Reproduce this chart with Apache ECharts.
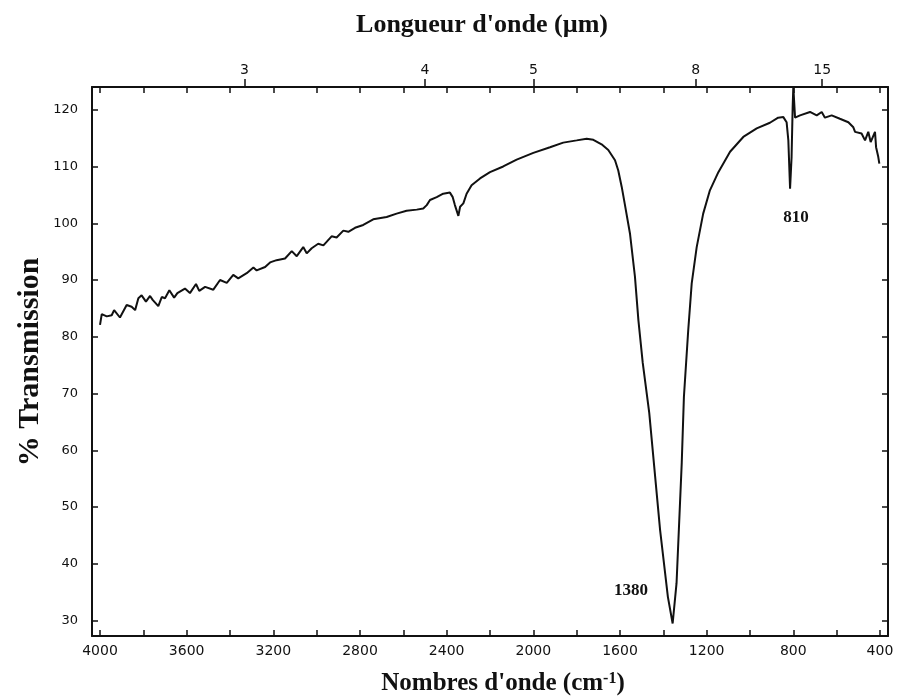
<!DOCTYPE html>
<html>
<head>
<meta charset="utf-8">
<title>Spectre IR</title>
<script src="https://cdn.jsdelivr.net/npm/echarts@6/dist/echarts.min.js"></script>
<style>
  html, body { margin: 0; padding: 0; background: #fff; }
  #ir_chart { width: 901px; height: 700px; }
</style>
</head>
<body>
<div id="ir_chart"></div>
<script>
// wavenumbers (cm-1), left to right
var wavenumber = [4000,3992,3969,3946,3935,3908,3877,3854,3838,3823,
    3808,3788,3769,3757,3731,3715,3700,3680,3658,3643,
    3608,3585,3557,3542,3515,3477,3446,3415,3385,3362,
    3323,3292,3277,3238,3215,3185,3146,3115,3092,3062,
    3046,3023,2993,2969,2931,2908,2877,2854,2823,2785,
    2739,2677,2631,2585,2538,2508,2492,2477,2446,2416,
    2385,2372,2362,2346,2338,2323,2308,2285,2246,2200,
    2139,2077,2000,1923,1862,1800,1754,1723,1685,1654,
    1623,1608,1592,1577,1554,1531,1515,1495,1465,1415,
    1379,1357,1350,1339,1315,1305,1285,1269,1246,1216,
    1185,1146,1092,1031,969,908,870,846,831,823,
    815,808,803,800,792,769,723,692,669,654,
    623,585,546,523,515,485,469,454,443,423,
    418,408,403];

// % transmission at those wavenumbers
var transmission = [82.1,84.0,83.6,83.8,84.7,83.4,85.6,85.3,84.7,86.8,
    87.3,86.2,87.2,86.5,85.4,87.0,86.8,88.2,86.9,87.7,
    88.5,87.7,89.3,88.1,88.8,88.3,90.0,89.5,90.9,90.3,
    91.2,92.2,91.7,92.3,93.1,93.5,93.8,95.1,94.2,95.8,
    94.7,95.6,96.4,96.1,97.7,97.5,98.7,98.5,99.2,99.7,
    100.7,101.1,101.7,102.2,102.4,102.6,103.2,104.1,104.6,105.2,
    105.4,104.6,103.2,101.3,102.9,103.5,105.2,106.7,107.9,109.0,
    110.0,111.2,112.4,113.4,114.2,114.6,114.9,114.7,113.9,112.9,
    111.1,109.3,106.4,103.2,98.2,90.6,82.9,75.4,66.6,46.0,
    34.2,29.5,29.6,36.6,57.8,69.4,81.2,89.4,95.8,101.7,
    105.8,109.0,112.6,115.2,116.7,117.7,118.6,118.7,117.8,114.6,
    106.1,111.7,120.5,124.0,118.6,119.0,119.6,119.0,119.6,118.6,
    119.0,118.4,117.8,116.9,116.1,115.8,114.6,116.1,114.3,116.1,
    113.4,111.7,110.5];

// axis ticks / labels
var wnLabels = [4000,3600,3200,2800,2400,2000,1600,1200,800,400];
var wnTicks = [4000,3800,3600,3400,3200,3000,2800,2600,2400,2200,2000,
    1800,1600,1400,1200,1000,800,600,400];
var umLabels = [3,4,5,8,15];
var tLabels = [30,40,50,60,70,80,90,100,110,120];

var peakLabels = [
    {text: '1380', x: 631, y: 591},
    {text: '810', x: 796, y: 218}
];

var umPos = umLabels.map(function (um) { return 10000 / um; });

var wnMin = 363, wnMax = 4037;
var tMin = 27.3, tMax = 124;

var black = '#111';
var sans = 'DejaVu Sans';
var serif = 'Liberation Serif';

var irChart = echarts.init(document.getElementById('ir_chart'));

var spectrum = wavenumber.map(function (w, i) { return [w, transmission[i]]; });

var graphics = [
    {
        type: 'text', x: 482, y: 25,
        style: {text: "Longueur d'onde (\u00b5m)", fill: black,
            font: 'bold 26px "Liberation Serif"', textAlign: 'center', textVerticalAlign: 'middle'}
    },
    {
        type: 'text', x: 503, y: 684,
        style: {
            text: "{a|Nombres d'onde (cm}{s|-1}{a|)}",
            textAlign: 'center', textVerticalAlign: 'middle',
            rich: {
                a: {fontFamily: serif, fontWeight: 'bold', fontSize: 25, fill: black, color: black},
                s: {fontFamily: serif, fontWeight: 'bold', fontSize: 16, fill: black, color: black, verticalAlign: 'top', padding: [0, 0, 10, 0]}
            }
        }
    },
    {
        type: 'text', x: 30, y: 362, rotation: Math.PI / 2,
        style: {text: '% Transmission', fill: black,
            font: 'bold 30px "Liberation Serif"', textAlign: 'center', textVerticalAlign: 'middle'}
    }
];
peakLabels.forEach(function (p) {
    graphics.push({
        type: 'text', x: p.x, y: p.y,
        style: {text: p.text, fill: black, font: 'bold 17px "Liberation Serif"',
            textAlign: 'center', textVerticalAlign: 'middle'}
    });
});

var lineStyleAxis = {color: black, width: 2};

irOption = {
    backgroundColor: '#fff',
    animation: false,
    grid: {left: 92, right: 13, top: 87, bottom: 64},
    xAxis: [
        {
            type: 'value', position: 'bottom', min: wnMin, max: wnMax, inverse: true,
            axisLine: {show: true, onZero: false, lineStyle: lineStyleAxis},
            axisTick: {show: true, inside: true, length: 6, customValues: wnTicks, lineStyle: {color: black, width: 1.5}},
            axisLabel: {customValues: wnLabels, margin: 8, color: black, fontFamily: sans, fontSize: 14,
                formatter: function (v) { return String(v); }},
            splitLine: {show: false}
        },
        {
            // micrometre scale along the top
            type: 'value', position: 'top', min: wnMin, max: wnMax, inverse: true,
            axisLine: {show: true, onZero: false, lineStyle: lineStyleAxis},
            axisTick: {show: true, inside: false, length: 8, customValues: umPos, lineStyle: {color: black, width: 1.5}},
            axisLabel: {
                customValues: umPos, margin: 10, color: black, fontFamily: sans, fontSize: 14,
                formatter: function (v) { return String(Math.round(10000 / v)); }
            },
            splitLine: {show: false}
        },
        {
            // inner ticks on the top frame
            type: 'value', position: 'top', min: wnMin, max: wnMax, inverse: true,
            axisLine: {show: false},
            axisTick: {show: true, inside: true, length: 6, customValues: wnTicks, lineStyle: {color: black, width: 1.5}},
            axisLabel: {show: false},
            splitLine: {show: false}
        }
    ],
    yAxis: [
        {
            type: 'value', position: 'left', min: tMin, max: tMax,
            axisLine: {show: true, onZero: false, lineStyle: lineStyleAxis},
            axisTick: {show: true, inside: true, length: 6, customValues: tLabels, lineStyle: {color: black, width: 1.5}},
            axisLabel: {customValues: tLabels, margin: 14, color: black, fontFamily: sans, fontSize: 13},
            splitLine: {show: false}
        },
        {
            type: 'value', position: 'right', min: tMin, max: tMax,
            axisLine: {show: true, onZero: false, lineStyle: lineStyleAxis},
            axisTick: {show: true, inside: true, length: 6, customValues: tLabels, lineStyle: {color: black, width: 1.5}},
            axisLabel: {show: false},
            splitLine: {show: false}
        }
    ],
    series: [
        {
            name: 'Transmission',
            type: 'line',
            xAxisIndex: 0,
            yAxisIndex: 0,
            data: spectrum,
            symbol: 'none',
            smooth: false,
            lineStyle: {color: black, width: 2},
            clip: true
        }
    ],
    graphic: graphics
};

irChart.setOption(irOption);
</script>
</body>
</html>
